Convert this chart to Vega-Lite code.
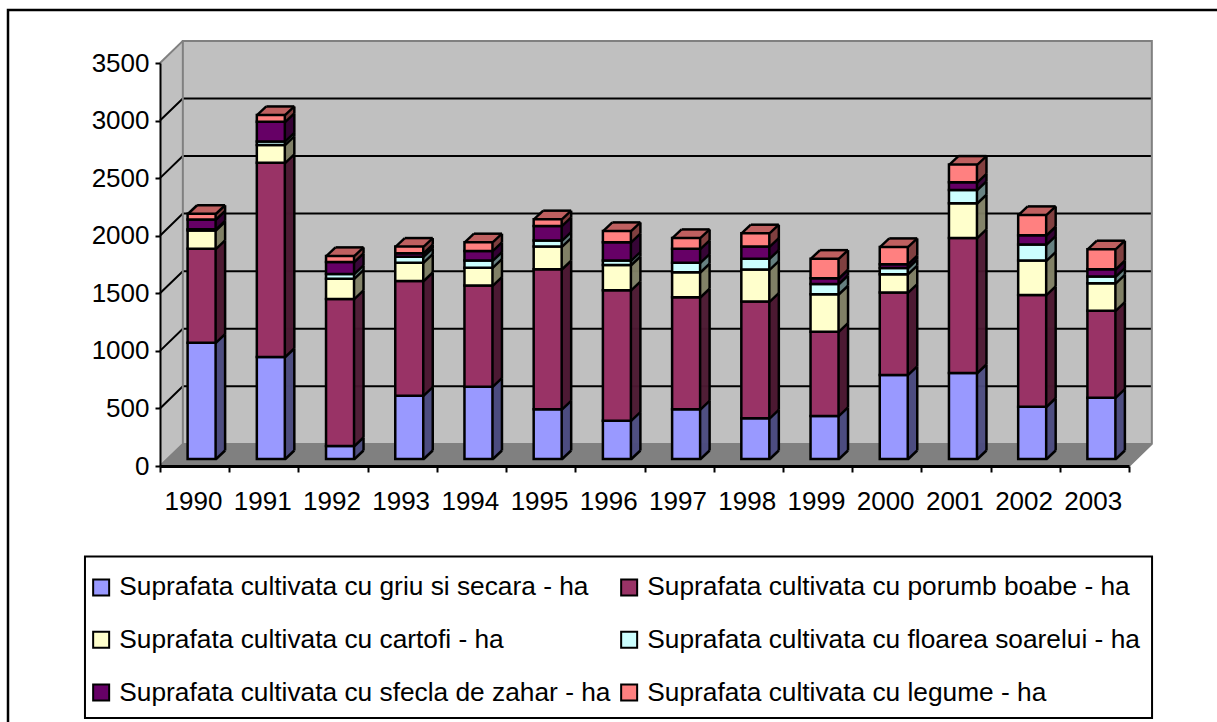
{"$schema":"https://vega.github.io/schema/vega-lite/v6.json","width":969,"height":403,"autosize":"none","padding":{"left":160,"top":63,"right":88,"bottom":256},"background":"white","config":{"view":{"stroke":null}},
"datasets":{"bars":[
{"year":1990,"k":1,"series":"Suprafata cultivata cu griu si secara - ha","value":1010},{"year":1990,"k":2,"series":"Suprafata cultivata cu porumb boabe - ha","value":815},{"year":1990,"k":3,"series":"Suprafata cultivata cu cartofi - ha","value":160},{"year":1990,"k":4,"series":"Suprafata cultivata cu floarea soarelui - ha","value":10},{"year":1990,"k":5,"series":"Suprafata cultivata cu sfecla de zahar - ha","value":85},{"year":1990,"k":6,"series":"Suprafata cultivata cu legume - ha","value":50},
{"year":1991,"k":1,"series":"Suprafata cultivata cu griu si secara - ha","value":886},{"year":1991,"k":2,"series":"Suprafata cultivata cu porumb boabe - ha","value":1686},{"year":1991,"k":3,"series":"Suprafata cultivata cu cartofi - ha","value":156},{"year":1991,"k":4,"series":"Suprafata cultivata cu floarea soarelui - ha","value":30},{"year":1991,"k":5,"series":"Suprafata cultivata cu sfecla de zahar - ha","value":170},{"year":1991,"k":6,"series":"Suprafata cultivata cu legume - ha","value":60},
{"year":1992,"k":1,"series":"Suprafata cultivata cu griu si secara - ha","value":113},{"year":1992,"k":2,"series":"Suprafata cultivata cu porumb boabe - ha","value":1277},{"year":1992,"k":3,"series":"Suprafata cultivata cu cartofi - ha","value":176},{"year":1992,"k":4,"series":"Suprafata cultivata cu floarea soarelui - ha","value":41},{"year":1992,"k":5,"series":"Suprafata cultivata cu sfecla de zahar - ha","value":105},{"year":1992,"k":6,"series":"Suprafata cultivata cu legume - ha","value":52},
{"year":1993,"k":1,"series":"Suprafata cultivata cu griu si secara - ha","value":550},{"year":1993,"k":2,"series":"Suprafata cultivata cu porumb boabe - ha","value":996},{"year":1993,"k":3,"series":"Suprafata cultivata cu cartofi - ha","value":159},{"year":1993,"k":4,"series":"Suprafata cultivata cu floarea soarelui - ha","value":52},{"year":1993,"k":5,"series":"Suprafata cultivata cu sfecla de zahar - ha","value":30},{"year":1993,"k":6,"series":"Suprafata cultivata cu legume - ha","value":58},
{"year":1994,"k":1,"series":"Suprafata cultivata cu griu si secara - ha","value":628},{"year":1994,"k":2,"series":"Suprafata cultivata cu porumb boabe - ha","value":878},{"year":1994,"k":3,"series":"Suprafata cultivata cu cartofi - ha","value":156},{"year":1994,"k":4,"series":"Suprafata cultivata cu floarea soarelui - ha","value":61},{"year":1994,"k":5,"series":"Suprafata cultivata cu sfecla de zahar - ha","value":84},{"year":1994,"k":6,"series":"Suprafata cultivata cu legume - ha","value":76},
{"year":1995,"k":1,"series":"Suprafata cultivata cu griu si secara - ha","value":431},{"year":1995,"k":2,"series":"Suprafata cultivata cu porumb boabe - ha","value":1217},{"year":1995,"k":3,"series":"Suprafata cultivata cu cartofi - ha","value":197},{"year":1995,"k":4,"series":"Suprafata cultivata cu floarea soarelui - ha","value":52},{"year":1995,"k":5,"series":"Suprafata cultivata cu sfecla de zahar - ha","value":127},{"year":1995,"k":6,"series":"Suprafata cultivata cu legume - ha","value":59},
{"year":1996,"k":1,"series":"Suprafata cultivata cu griu si secara - ha","value":333},{"year":1996,"k":2,"series":"Suprafata cultivata cu porumb boabe - ha","value":1133},{"year":1996,"k":3,"series":"Suprafata cultivata cu cartofi - ha","value":219},{"year":1996,"k":4,"series":"Suprafata cultivata cu floarea soarelui - ha","value":38},{"year":1996,"k":5,"series":"Suprafata cultivata cu sfecla de zahar - ha","value":160},{"year":1996,"k":6,"series":"Suprafata cultivata cu legume - ha","value":98},
{"year":1997,"k":1,"series":"Suprafata cultivata cu griu si secara - ha","value":431},{"year":1997,"k":2,"series":"Suprafata cultivata cu porumb boabe - ha","value":974},{"year":1997,"k":3,"series":"Suprafata cultivata cu cartofi - ha","value":217},{"year":1997,"k":4,"series":"Suprafata cultivata cu floarea soarelui - ha","value":83},{"year":1997,"k":5,"series":"Suprafata cultivata cu sfecla de zahar - ha","value":120},{"year":1997,"k":6,"series":"Suprafata cultivata cu legume - ha","value":95},
{"year":1998,"k":1,"series":"Suprafata cultivata cu griu si secara - ha","value":353},{"year":1998,"k":2,"series":"Suprafata cultivata cu porumb boabe - ha","value":1014},{"year":1998,"k":3,"series":"Suprafata cultivata cu cartofi - ha","value":278},{"year":1998,"k":4,"series":"Suprafata cultivata cu floarea soarelui - ha","value":95},{"year":1998,"k":5,"series":"Suprafata cultivata cu sfecla de zahar - ha","value":105},{"year":1998,"k":6,"series":"Suprafata cultivata cu legume - ha","value":116},
{"year":1999,"k":1,"series":"Suprafata cultivata cu griu si secara - ha","value":374},{"year":1999,"k":2,"series":"Suprafata cultivata cu porumb boabe - ha","value":732},{"year":1999,"k":3,"series":"Suprafata cultivata cu cartofi - ha","value":325},{"year":1999,"k":4,"series":"Suprafata cultivata cu floarea soarelui - ha","value":89},{"year":1999,"k":5,"series":"Suprafata cultivata cu sfecla de zahar - ha","value":50},{"year":1999,"k":6,"series":"Suprafata cultivata cu legume - ha","value":170},
{"year":2000,"k":1,"series":"Suprafata cultivata cu griu si secara - ha","value":730},{"year":2000,"k":2,"series":"Suprafata cultivata cu porumb boabe - ha","value":715},{"year":2000,"k":3,"series":"Suprafata cultivata cu cartofi - ha","value":160},{"year":2000,"k":4,"series":"Suprafata cultivata cu floarea soarelui - ha","value":54},{"year":2000,"k":5,"series":"Suprafata cultivata cu sfecla de zahar - ha","value":33},{"year":2000,"k":6,"series":"Suprafata cultivata cu legume - ha","value":150},
{"year":2001,"k":1,"series":"Suprafata cultivata cu griu si secara - ha","value":747},{"year":2001,"k":2,"series":"Suprafata cultivata cu porumb boabe - ha","value":1173},{"year":2001,"k":3,"series":"Suprafata cultivata cu cartofi - ha","value":301},{"year":2001,"k":4,"series":"Suprafata cultivata cu floarea soarelui - ha","value":116},{"year":2001,"k":5,"series":"Suprafata cultivata cu sfecla de zahar - ha","value":66},{"year":2001,"k":6,"series":"Suprafata cultivata cu legume - ha","value":154},
{"year":2002,"k":1,"series":"Suprafata cultivata cu griu si secara - ha","value":454},{"year":2002,"k":2,"series":"Suprafata cultivata cu porumb boabe - ha","value":971},{"year":2002,"k":3,"series":"Suprafata cultivata cu cartofi - ha","value":298},{"year":2002,"k":4,"series":"Suprafata cultivata cu floarea soarelui - ha","value":139},{"year":2002,"k":5,"series":"Suprafata cultivata cu sfecla de zahar - ha","value":81},{"year":2002,"k":6,"series":"Suprafata cultivata cu legume - ha","value":177},
{"year":2003,"k":1,"series":"Suprafata cultivata cu griu si secara - ha","value":533},{"year":2003,"k":2,"series":"Suprafata cultivata cu porumb boabe - ha","value":755},{"year":2003,"k":3,"series":"Suprafata cultivata cu cartofi - ha","value":238},{"year":2003,"k":4,"series":"Suprafata cultivata cu floarea soarelui - ha","value":58},{"year":2003,"k":5,"series":"Suprafata cultivata cu sfecla de zahar - ha","value":64},{"year":2003,"k":6,"series":"Suprafata cultivata cu legume - ha","value":174}
]},
"resolve":{"scale":{"color":"independent"}},
"layer":[
{"data":{"values":[{"a":1987.304,"a2":2012,"b":3960,"b2":-3000}]},"mark":{"type":"rect","fill":null,"stroke":"black","strokeWidth":2.5,"clip":false},"encoding":{"x":{"field":"a","type":"quantitative","scale":{"domain":[1989.5,2003.5],"nice":false,"zero":false,"padding":0},"axis":{"values":[1989.5,1990.5,1991.5,1992.5,1993.5,1994.5,1995.5,1996.5,1997.5,1998.5,1999.5,2000.5,2001.5,2002.5,2003.5],"labelExpr":"datum.value<2003 ? format(datum.value+0.5,'d') : ''","labelOffset":33,"labelOverlap":false,"labelFlush":false,"title":null,"grid":false,"domainColor":"black","domainWidth":3,"tickColor":"black","tickWidth":2,"tickSize":6,"labelFont":"Liberation Sans","labelFontSize":26,"labelColor":"black","labelPadding":16,"labelBaseline":"top","zindex":1}},"x2":{"field":"a2"},"y":{"field":"b","type":"quantitative","scale":{"domain":[0,3500],"nice":false},"axis":{"values":[0,500,1000,1500,2000,2500,3000,3500],"format":"d","title":null,"grid":false,"domainColor":"black","domainWidth":2,"tickColor":"black","tickWidth":2,"tickSize":5,"labelFont":"Liberation Sans","labelFontSize":26,"labelColor":"black","labelPadding":6,"zindex":1}},"y2":{"field":"b2"}}},
{"data":{"values":[{"a":1988.416,"a2":2003.833,"b":-786,"b2":-2189}]},"mark":{"type":"rect","fill":"white","stroke":"black","strokeWidth":2,"clip":false},"encoding":{"x":{"field":"a","type":"quantitative"},"x2":{"field":"a2"},"y":{"field":"b","type":"quantitative"},"y2":{"field":"b2"}}},
{"data":{"values":[{"a":1989.5,"b":0,"c":3500},{"a":1989.83,"b":192,"c":3692}]},"mark":{"type":"area","color":"#c0c0c0","clip":false},"encoding":{"x":{"field":"a","type":"quantitative"},"y":{"field":"b","type":"quantitative"},"y2":{"field":"c"}}},
{"data":{"values":[{"a":1989.83,"b":192,"c":3692},{"a":2003.83,"b":192,"c":3692}]},"mark":{"type":"area","color":"#c0c0c0","clip":false},"encoding":{"x":{"field":"a","type":"quantitative"},"y":{"field":"b","type":"quantitative"},"y2":{"field":"c"}}},
{"data":{"values":[{"a":1989.5,"b":0,"c":0},{"a":1989.83,"b":0,"c":192},{"a":2003.5,"b":0,"c":192},{"a":2003.83,"b":192,"c":192}]},"mark":{"type":"area","color":"#808080","clip":false},"encoding":{"x":{"field":"a","type":"quantitative"},"y":{"field":"b","type":"quantitative"},"y2":{"field":"c"}}},
{"data":{"values":[{"g":500,"a":1989.5,"b":500},{"g":500,"a":1989.83,"b":692},{"g":500,"a":2003.83,"b":692},{"g":1000,"a":1989.5,"b":1000},{"g":1000,"a":1989.83,"b":1192},{"g":1000,"a":2003.83,"b":1192},{"g":1500,"a":1989.5,"b":1500},{"g":1500,"a":1989.83,"b":1692},{"g":1500,"a":2003.83,"b":1692},{"g":2000,"a":1989.5,"b":2000},{"g":2000,"a":1989.83,"b":2192},{"g":2000,"a":2003.83,"b":2192},{"g":2500,"a":1989.5,"b":2500},{"g":2500,"a":1989.83,"b":2692},{"g":2500,"a":2003.83,"b":2692},{"g":3000,"a":1989.5,"b":3000},{"g":3000,"a":1989.83,"b":3192},{"g":3000,"a":2003.83,"b":3192}]},"mark":{"type":"line","color":"black","strokeWidth":2,"clip":false},"encoding":{"x":{"field":"a","type":"quantitative"},"y":{"field":"b","type":"quantitative"},"detail":{"field":"g"}}},
{"data":{"values":[{"g":1,"o":1,"a":1989.5,"b":0},{"g":1,"o":2,"a":1989.83,"b":192},{"g":1,"o":3,"a":1989.83,"b":3692},{"g":1,"o":4,"a":2003.83,"b":3692},{"g":1,"o":5,"a":2003.83,"b":192},{"g":1,"o":6,"a":2003.5,"b":0},{"g":2,"o":1,"a":1989.83,"b":192},{"g":2,"o":2,"a":2003.83,"b":192},{"g":3,"o":1,"a":1989.5,"b":3500},{"g":3,"o":2,"a":1989.83,"b":3692}]},"mark":{"type":"line","color":"#808080","strokeWidth":2,"clip":false},"encoding":{"x":{"field":"a","type":"quantitative"},"y":{"field":"b","type":"quantitative"},"detail":{"field":"g"},"order":{"field":"o"}}},

{"data":{"name":"bars"},"transform":[{"stack":"value","groupby":["year"],"sort":[{"field":"k"}],"as":["v0","v1"]},{"filter":"datum.k==6"}],"mark":{"type":"bar","size":28,"color":"#bf6060","xOffset":8.5,"yOffset":-7.9,"y2Offset":-7.9},"encoding":{"x":{"field":"year","type":"quantitative"},"y":{"field":"v1","type":"quantitative"},"y2":{"field":"v0"}}},
{"data":{"name":"bars"},"transform":[{"stack":"value","groupby":["year"],"sort":[{"field":"k"}],"as":["v0","v1"]},{"filter":"datum.k==6"}],"mark":{"type":"bar","size":28,"color":"#bf6060","xOffset":10.5,"yOffset":-9.8,"y2Offset":-9.8},"encoding":{"x":{"field":"year","type":"quantitative"},"y":{"field":"v1","type":"quantitative"},"y2":{"field":"v0"}}},
{"data":{"name":"bars"},"transform":[{"stack":"value","groupby":["year"],"sort":[{"field":"k"}],"as":["v0","v1"]},{"filter":"datum.k==6"}],"mark":{"type":"bar","size":28,"color":"#bf6060","xOffset":12.5,"yOffset":-11.7,"y2Offset":-11.7},"encoding":{"x":{"field":"year","type":"quantitative"},"y":{"field":"v1","type":"quantitative"},"y2":{"field":"v0"}}},
{"data":{"name":"bars"},"transform":[{"stack":"value","groupby":["year"],"sort":[{"field":"k"}],"as":["v0","v1"]},{"filter":"datum.k==6"}],"mark":{"type":"bar","size":28,"color":"#bf6060","xOffset":14.5,"yOffset":-13.6,"y2Offset":-13.6},"encoding":{"x":{"field":"year","type":"quantitative"},"y":{"field":"v1","type":"quantitative"},"y2":{"field":"v0"}}},
{"data":{"name":"bars"},"transform":[{"stack":"value","groupby":["year"],"sort":[{"field":"k"}],"as":["v0","v1"]},{"filter":"datum.k==6"}],"mark":{"type":"bar","size":28,"color":"#bf6060","xOffset":16.5,"yOffset":-15.5,"y2Offset":-15.5},"encoding":{"x":{"field":"year","type":"quantitative"},"y":{"field":"v1","type":"quantitative"},"y2":{"field":"v0"}}},

{"data":{"name":"bars"},"transform":[{"stack":"value","groupby":["year"],"sort":[{"field":"k"}],"as":["v0","v1"]}],"mark":{"type":"bar","size":1.6,"xOffset":22,"yOffset":-7.5,"y2Offset":-7.5},"encoding":{"x":{"field":"year","type":"quantitative"},"y":{"field":"v1","type":"quantitative"},"y2":{"field":"v0"},"color":{"field":"k","type":"nominal","legend":null,"scale":{"domain":[1,2,3,4,5,6],"range":["#4d4d80","#4d1a33","#808066","#668080","#330033","#804040"]}}}},
{"data":{"name":"bars"},"transform":[{"stack":"value","groupby":["year"],"sort":[{"field":"k"}],"as":["v0","v1"]}],"mark":{"type":"bar","size":1.6,"xOffset":23,"yOffset":-8.4,"y2Offset":-8.4},"encoding":{"x":{"field":"year","type":"quantitative"},"y":{"field":"v1","type":"quantitative"},"y2":{"field":"v0"},"color":{"field":"k","type":"nominal","legend":null,"scale":{"domain":[1,2,3,4,5,6],"range":["#4d4d80","#4d1a33","#808066","#668080","#330033","#804040"]}}}},
{"data":{"name":"bars"},"transform":[{"stack":"value","groupby":["year"],"sort":[{"field":"k"}],"as":["v0","v1"]}],"mark":{"type":"bar","size":1.6,"xOffset":24,"yOffset":-9.4,"y2Offset":-9.4},"encoding":{"x":{"field":"year","type":"quantitative"},"y":{"field":"v1","type":"quantitative"},"y2":{"field":"v0"},"color":{"field":"k","type":"nominal","legend":null,"scale":{"domain":[1,2,3,4,5,6],"range":["#4d4d80","#4d1a33","#808066","#668080","#330033","#804040"]}}}},
{"data":{"name":"bars"},"transform":[{"stack":"value","groupby":["year"],"sort":[{"field":"k"}],"as":["v0","v1"]}],"mark":{"type":"bar","size":1.6,"xOffset":25,"yOffset":-10.3,"y2Offset":-10.3},"encoding":{"x":{"field":"year","type":"quantitative"},"y":{"field":"v1","type":"quantitative"},"y2":{"field":"v0"},"color":{"field":"k","type":"nominal","legend":null,"scale":{"domain":[1,2,3,4,5,6],"range":["#4d4d80","#4d1a33","#808066","#668080","#330033","#804040"]}}}},
{"data":{"name":"bars"},"transform":[{"stack":"value","groupby":["year"],"sort":[{"field":"k"}],"as":["v0","v1"]}],"mark":{"type":"bar","size":1.6,"xOffset":26,"yOffset":-11.3,"y2Offset":-11.3},"encoding":{"x":{"field":"year","type":"quantitative"},"y":{"field":"v1","type":"quantitative"},"y2":{"field":"v0"},"color":{"field":"k","type":"nominal","legend":null,"scale":{"domain":[1,2,3,4,5,6],"range":["#4d4d80","#4d1a33","#808066","#668080","#330033","#804040"]}}}},
{"data":{"name":"bars"},"transform":[{"stack":"value","groupby":["year"],"sort":[{"field":"k"}],"as":["v0","v1"]}],"mark":{"type":"bar","size":1.6,"xOffset":27,"yOffset":-12.2,"y2Offset":-12.2},"encoding":{"x":{"field":"year","type":"quantitative"},"y":{"field":"v1","type":"quantitative"},"y2":{"field":"v0"},"color":{"field":"k","type":"nominal","legend":null,"scale":{"domain":[1,2,3,4,5,6],"range":["#4d4d80","#4d1a33","#808066","#668080","#330033","#804040"]}}}},
{"data":{"name":"bars"},"transform":[{"stack":"value","groupby":["year"],"sort":[{"field":"k"}],"as":["v0","v1"]}],"mark":{"type":"bar","size":1.6,"xOffset":28,"yOffset":-13.2,"y2Offset":-13.2},"encoding":{"x":{"field":"year","type":"quantitative"},"y":{"field":"v1","type":"quantitative"},"y2":{"field":"v0"},"color":{"field":"k","type":"nominal","legend":null,"scale":{"domain":[1,2,3,4,5,6],"range":["#4d4d80","#4d1a33","#808066","#668080","#330033","#804040"]}}}},
{"data":{"name":"bars"},"transform":[{"stack":"value","groupby":["year"],"sort":[{"field":"k"}],"as":["v0","v1"]}],"mark":{"type":"bar","size":1.6,"xOffset":29,"yOffset":-14.1,"y2Offset":-14.1},"encoding":{"x":{"field":"year","type":"quantitative"},"y":{"field":"v1","type":"quantitative"},"y2":{"field":"v0"},"color":{"field":"k","type":"nominal","legend":null,"scale":{"domain":[1,2,3,4,5,6],"range":["#4d4d80","#4d1a33","#808066","#668080","#330033","#804040"]}}}},
{"data":{"name":"bars"},"transform":[{"stack":"value","groupby":["year"],"sort":[{"field":"k"}],"as":["v0","v1"]}],"mark":{"type":"bar","size":1.6,"xOffset":30,"yOffset":-15.1,"y2Offset":-15.1},"encoding":{"x":{"field":"year","type":"quantitative"},"y":{"field":"v1","type":"quantitative"},"y2":{"field":"v0"},"color":{"field":"k","type":"nominal","legend":null,"scale":{"domain":[1,2,3,4,5,6],"range":["#4d4d80","#4d1a33","#808066","#668080","#330033","#804040"]}}}},

{"data":{"name":"bars"},"transform":[{"stack":"value","groupby":["year"],"sort":[{"field":"k"}],"as":["v0","v1"]}],"mark":{"type":"rule","color":"black","strokeWidth":2.5,"xOffset":21.5,"x2Offset":30.5,"yOffset":-7,"y2Offset":-15.5},"encoding":{"x":{"field":"year","type":"quantitative"},"x2":{"field":"year"},"y":{"field":"v1","type":"quantitative"},"y2":{"field":"v1"}}},
{"data":{"name":"bars"},"transform":[{"stack":"value","groupby":["year"],"sort":[{"field":"k"}],"as":["v0","v1"]},{"filter":"datum.k==1"}],"mark":{"type":"rule","color":"black","strokeWidth":2.5,"xOffset":21.5,"x2Offset":30.5,"yOffset":-7,"y2Offset":-15.5},"encoding":{"x":{"field":"year","type":"quantitative"},"x2":{"field":"year"},"y":{"field":"v0","type":"quantitative"},"y2":{"field":"v0"}}},
{"data":{"name":"bars"},"transform":[{"stack":"value","groupby":["year"],"sort":[{"field":"k"}],"as":["v0","v1"]}],"mark":{"type":"rule","color":"black","strokeWidth":2.5,"xOffset":30.5,"yOffset":-15.5,"y2Offset":-15.5},"encoding":{"x":{"field":"year","type":"quantitative"},"y":{"field":"v1","type":"quantitative"},"y2":{"field":"v0"}}},
{"data":{"name":"bars"},"transform":[{"stack":"value","groupby":["year"],"sort":[{"field":"k"}],"as":["v0","v1"]},{"filter":"datum.k==6"}],"mark":{"type":"rule","color":"black","strokeWidth":2.5,"xOffset":-6.5,"x2Offset":2.5,"yOffset":-7,"y2Offset":-15.5},"encoding":{"x":{"field":"year","type":"quantitative"},"x2":{"field":"year"},"y":{"field":"v1","type":"quantitative"},"y2":{"field":"v1"}}},
{"data":{"name":"bars"},"transform":[{"stack":"value","groupby":["year"],"sort":[{"field":"k"}],"as":["v0","v1"]},{"filter":"datum.k==6"}],"mark":{"type":"rule","color":"black","strokeWidth":2.5,"xOffset":2.5,"x2Offset":30.5,"yOffset":-15.5,"y2Offset":-15.5},"encoding":{"x":{"field":"year","type":"quantitative"},"x2":{"field":"year"},"y":{"field":"v1","type":"quantitative"},"y2":{"field":"v1"}}},

{"data":{"name":"bars"},"transform":[{"stack":"value","groupby":["year"],"sort":[{"field":"k"}],"as":["v0","v1"]}],"mark":{"type":"bar","size":28,"stroke":"black","strokeWidth":2.5,"xOffset":7,"yOffset":-7,"y2Offset":-7},"encoding":{"x":{"field":"year","type":"quantitative"},"y":{"field":"v1","type":"quantitative"},"y2":{"field":"v0"},"color":{"field":"series","type":"nominal","sort":null,"scale":{"domain":["Suprafata cultivata cu griu si secara - ha","Suprafata cultivata cu porumb boabe - ha","Suprafata cultivata cu cartofi - ha","Suprafata cultivata cu floarea soarelui - ha","Suprafata cultivata cu sfecla de zahar - ha","Suprafata cultivata cu legume - ha"],"range":["#9999ff","#993366","#ffffcc","#ccffff","#660066","#ff8080"]},"legend":{"title":null,"orient":"none","legendX":-72,"legendY":511,"columns":2,"direction":"horizontal","symbolType":"square","symbolSize":256,"symbolStrokeColor":"black","symbolStrokeWidth":2,"symbolOpacity":1,"labelFont":"Liberation Sans","labelFontSize":26.3,"labelColor":"black","labelLimit":600,"labelOffset":5,"padding":0,"rowPadding":25.7,"columnPadding":5}}}}
]}
